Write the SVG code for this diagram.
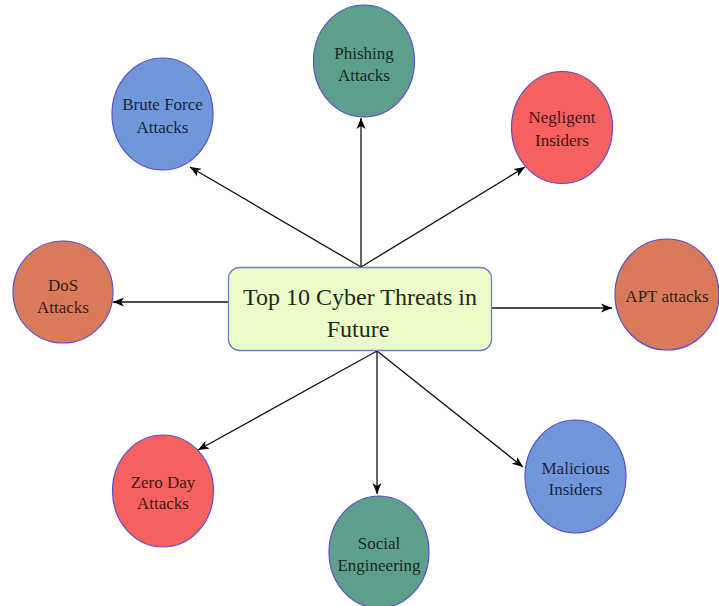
<svg xmlns="http://www.w3.org/2000/svg" width="719" height="606" viewBox="0 0 719 606">
<defs>
<marker id="arr" markerWidth="12" markerHeight="10" refX="11" refY="5" orient="auto" markerUnits="userSpaceOnUse">
<path d="M0,0.5 L11,5 L0,9.5 L3,5 Z" fill="#000"/>
</marker>
<style>
.lk{stroke:#111;stroke-width:1.3;fill:none;marker-end:url(#arr)}
.nd{stroke:#5a4fc8;stroke-width:1.2}
.teal{fill:#5d9f8c}
.blue{fill:#7097da}
.red{fill:#f6605e}
.orng{fill:#d97b5b}
.t{font-family:"Liberation Serif","Times New Roman",serif;font-size:17px;fill:#000;fill-opacity:0.78;text-anchor:middle}
.main{font-family:"Liberation Serif","Times New Roman",serif;font-size:24px;fill:#1d2a1d;text-anchor:middle}
</style>
</defs>
<rect width="719" height="606" fill="#fff"/>
<g id="connectors">
<line class="lk" x1="361" y1="267" x2="361" y2="118"/>
<line class="lk" x1="361" y1="267" x2="190" y2="167"/>
<line class="lk" x1="361" y1="267" x2="525" y2="167"/>
<line class="lk" x1="228" y1="302" x2="113" y2="302"/>
<line class="lk" x1="492" y1="308" x2="612" y2="308"/>
<line class="lk" x1="377" y1="351" x2="198" y2="450"/>
<line class="lk" x1="377" y1="351" x2="377" y2="494"/>
<line class="lk" x1="377" y1="351" x2="523" y2="467"/>
</g>
<g id="center">
<rect x="228.5" y="267.5" width="263" height="83" rx="11" fill="#ebfcc9" stroke="#6b80c4" stroke-width="1.3"/>
<text class="main" x="360" y="305">Top 10 Cyber Threats in</text>
<text class="main" x="358" y="337">Future</text>
</g>
<g id="phishing">
<ellipse class="nd teal" cx="364" cy="61" rx="50.5" ry="56"/>
<text class="t" x="364" y="59">Phishing</text>
<text class="t" x="364" y="81">Attacks</text>
</g>
<g id="brute-force">
<ellipse class="nd blue" cx="162.5" cy="114" rx="50.5" ry="56"/>
<text class="t" x="162.5" y="110">Brute Force</text>
<text class="t" x="162.5" y="133">Attacks</text>
</g>
<g id="negligent">
<ellipse class="nd red" cx="562" cy="127.5" rx="50.5" ry="56"/>
<text class="t" x="562" y="123">Negligent</text>
<text class="t" x="562" y="146">Insiders</text>
</g>
<g id="dos">
<ellipse class="nd orng" cx="63" cy="292" rx="50" ry="51"/>
<text class="t" x="63" y="291">DoS</text>
<text class="t" x="63" y="313">Attacks</text>
</g>
<g id="apt">
<ellipse class="nd orng" cx="667" cy="294.5" rx="52" ry="55.5"/>
<text class="t" x="667" y="302">APT attacks</text>
</g>
<g id="zero-day">
<ellipse class="nd red" cx="163" cy="491" rx="50.5" ry="56"/>
<text class="t" x="163" y="488">Zero Day</text>
<text class="t" x="163" y="509">Attacks</text>
</g>
<g id="social">
<ellipse class="nd teal" cx="379" cy="552" rx="50" ry="56"/>
<text class="t" x="379" y="549">Social</text>
<text class="t" x="379" y="571">Engineering</text>
</g>
<g id="malicious">
<ellipse class="nd blue" cx="575.5" cy="476.5" rx="50.5" ry="56.5"/>
<text class="t" x="575.5" y="474">Malicious</text>
<text class="t" x="575.5" y="495">Insiders</text>
</g>
</svg>
